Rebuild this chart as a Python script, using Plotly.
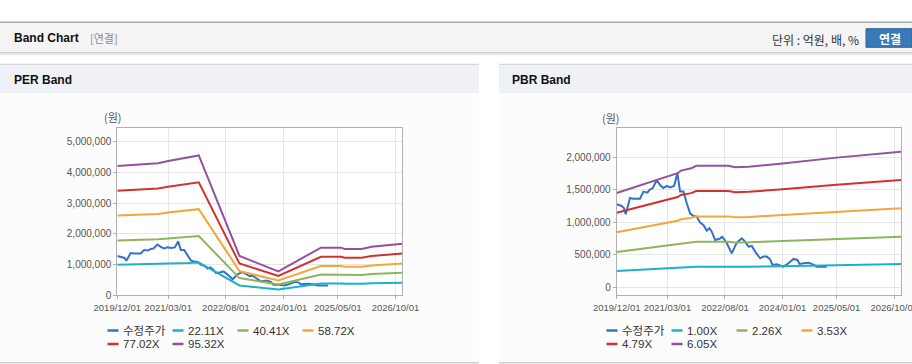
import plotly.graph_objects as go

W, H = 912, 364

# ---------------- data ----------------
series_names_per = ["수정주가", "22.11X", "40.41X", "58.72X", "77.02X", "95.32X"]
series_names_pbr = ["수정주가", "1.00X", "2.26X", "3.53X", "4.79X", "6.05X"]
series_colors = ["#3671c4", "#1fb0c9", "#8fb55a", "#f2a73b", "#d2322b", "#94519f"]

date_ticks = ["2019-12-01", "2021-03-01", "2022-08-01", "2024-01-01", "2025-05-01", "2026-10-01"]

price_dates = [
    "2019-12-01", "2020-01-15", "2020-02-05", "2020-02-20", "2020-03-30", "2020-04-29",
    "2020-06-28", "2020-07-28", "2020-09-02", "2020-09-26", "2020-10-20", "2020-11-25",
    "2020-12-25", "2021-01-24", "2021-02-23", "2021-03-25", "2021-04-30", "2021-05-30",
    "2021-06-23", "2021-07-23", "2021-08-22", "2021-09-21", "2021-10-21", "2021-11-20",
    "2021-12-20", "2022-01-19", "2022-02-18", "2022-03-14", "2022-04-04", "2022-05-04",
    "2022-06-18", "2022-07-06", "2022-07-18", "2022-08-17", "2022-10-01", "2022-11-15",
    "2022-12-30", "2023-01-29", "2023-02-28", "2023-03-30", "2023-04-29", "2023-06-13",
    "2023-07-13", "2023-08-12", "2023-09-11", "2023-10-02", "2023-11-10", "2024-01-09",
    "2024-02-23", "2024-04-08", "2024-05-14", "2024-06-01", "2024-07-07", "2024-08-21",
    "2024-09-29", "2024-11-04", "2025-02-02",
]
price_values = [
    1277000, 1251000, 1215000, 1123000, 1374000, 1364000,
    1364000, 1472000, 1456000, 1508000, 1523000, 1651000,
    1574000, 1528000, 1559000, 1538000, 1559000, 1754000,
    1472000, 1472000, 1292000, 1138000, 1097000, 1087000,
    995000, 959000, 872000, 908000, 856000, 728000,
    750000, 779000, 754000, 677000, 523000, 687000,
    754000, 703000, 626000, 636000, 549000, 446000,
    472000, 472000, 431000, 344000, 354000, 318000,
    369000, 436000, 421000, 359000, 369000, 379000,
    354000, 318000, 318000,
]

per_dates = [
    "2019-12-01", "2020-03-01", "2020-06-01", "2020-09-01", "2020-12-01", "2021-03-01",
    "2021-06-01", "2021-09-01", "2021-12-01", "2022-12-01", "2023-11-15", "2024-12-01",
    "2025-06-01", "2025-07-01", "2025-12-01", "2026-03-01", "2026-12-01",
]
per_22_11 = [995000, 1000000, 1004000, 1008000, 1015000, 1030000, 1043000, 1052000, 1070000,
             320000, 185000, 385000, 385000, 378000, 378000, 392000, 410000]
per_40_41 = [1785000, 1793000, 1802000, 1810000, 1823000, 1852000, 1878000, 1895000, 1929000,
             560000, 350000, 675000, 675000, 660000, 660000, 690000, 735000]
per_58_72 = [2593000, 2606000, 2618000, 2630000, 2649000, 2692000, 2729000, 2754000, 2803000,
             788000, 480000, 955000, 955000, 930000, 930000, 973000, 1035000]
per_77_02 = [3402000, 3418000, 3434000, 3450000, 3474000, 3531000, 3579000, 3612000, 3676000,
             1034000, 630000, 1252000, 1252000, 1220000, 1220000, 1277000, 1357000]
per_95_32 = [4210000, 4230000, 4250000, 4270000, 4300000, 4370000, 4430000, 4470000, 4550000,
             1280000, 780000, 1550000, 1550000, 1510000, 1510000, 1580000, 1680000]

pbr_dates = [
    "2019-12-01", "2021-06-01", "2021-07-01", "2021-10-01", "2021-11-15", "2022-09-01",
    "2022-11-01", "2023-03-01", "2024-01-01", "2025-05-01", "2026-12-01",
]
pbr_1_00 = [250000, 298000, 305000, 310000, 317000, 317000, 313000, 315000, 323000, 340000, 360000]
pbr_2_26 = [542000, 656000, 671000, 684000, 699000, 699000, 690000, 693000, 712000, 745000, 779000]
pbr_3_53 = [846000, 1024000, 1047000, 1068000, 1091000, 1091000, 1077000, 1082000, 1112000, 1164000, 1217000]
pbr_4_79 = [1148000, 1389000, 1421000, 1449000, 1480000, 1480000, 1461000, 1469000, 1508000, 1579000, 1651000]
pbr_6_05 = [1450000, 1755000, 1795000, 1830000, 1870000, 1870000, 1846000, 1855000, 1905000, 1995000, 2085000]

per_ticks = [0, 1000000, 2000000, 3000000, 4000000, 5000000]
pbr_ticks = [0, 500000, 1000000, 1500000, 2000000]

# ---------------- helpers (pixel -> paper, margins are zero) ----------------
def px(x):
    return x / W

def py(y):
    return 1 - y / H

FONT = "Liberation Sans, Noto Sans CJK KR, sans-serif"
KFONT = "Noto Sans CJK KR, Liberation Sans, sans-serif"

fig = go.Figure()

per_bands = [per_22_11, per_40_41, per_58_72, per_77_02, per_95_32]
pbr_bands = [pbr_1_00, pbr_2_26, pbr_3_53, pbr_4_79, pbr_6_05]

fig.add_trace(go.Scatter(x=price_dates, y=price_values, mode="lines", name=series_names_per[0],
                         line=dict(color=series_colors[0], width=2), xaxis="x", yaxis="y"))
for i, band in enumerate(per_bands):
    fig.add_trace(go.Scatter(x=per_dates, y=band, mode="lines", name=series_names_per[i + 1],
                             line=dict(color=series_colors[i + 1], width=2), xaxis="x", yaxis="y"))

fig.add_trace(go.Scatter(x=price_dates, y=price_values, mode="lines", name=series_names_pbr[0],
                         line=dict(color=series_colors[0], width=2), xaxis="x2", yaxis="y2"))
for i, band in enumerate(pbr_bands):
    fig.add_trace(go.Scatter(x=pbr_dates, y=band, mode="lines", name=series_names_pbr[i + 1],
                             line=dict(color=series_colors[i + 1], width=2), xaxis="x2", yaxis="y2"))

axis_common = dict(
    showgrid=True, gridcolor="#e6e6e6", gridwidth=1,
    showline=True, linecolor="#b0b0b0", linewidth=1, mirror=True,
    ticks="outside", ticklen=3, tickcolor="#b0b0b0",
    tickfont=dict(family=FONT, size=10, color="#555555"),
    zeroline=False, fixedrange=True, automargin=False, tickangle=0,
)
xfont = dict(family=FONT, size=9.5, color="#555555")

xr = ["2019-12-01", "2026-12-01"]
fig.update_layout(
    xaxis=dict(axis_common, type="date", range=xr, tickvals=date_ticks, tickformat="%Y/%m/%d",
               domain=[px(117.3), px(402.3)], anchor="y", ticklabeloverflow="allow", tickfont=xfont),
    yaxis=dict(axis_common, range=[0, 5434000], tickvals=per_ticks, tickformat=",",
               domain=[py(295.3), py(128.3)], anchor="x"),
    xaxis2=dict(axis_common, type="date", range=xr, tickvals=date_ticks, tickformat="%Y/%m/%d",
                domain=[px(616.7), px(901)], anchor="y2", ticklabeloverflow="allow", tickfont=xfont),
    yaxis2=dict(axis_common, range=[-123000, 2446000], tickvals=pbr_ticks, tickformat=",",
                domain=[py(295.3), py(128.3)], anchor="x2"),
)

shapes = []
annotations = []

# page chrome
shapes += [
    dict(type="rect", xref="paper", yref="paper", x0=0, x1=1, y0=py(52.5), y1=py(22.5),
         fillcolor="#f4f4f4", line=dict(width=0), layer="below"),
    dict(type="line", xref="paper", yref="paper", x0=0, x1=1, y0=py(22.3), y1=py(22.3),
         line=dict(color="#aaaaaa", width=1.5), layer="below"),
    dict(type="line", xref="paper", yref="paper", x0=0, x1=1, y0=py(52.8), y1=py(52.8),
         line=dict(color="#c4c4c4", width=1.2), layer="below"),
    dict(type="line", xref="paper", yref="paper", x0=0, x1=1, y0=py(54.2), y1=py(54.2),
         line=dict(color="#e8e8e8", width=1.5), layer="below"),
]
for (a, b) in [(0, 479), (499, 912)]:
    shapes += [
        dict(type="rect", xref="paper", yref="paper", x0=px(a), x1=px(b), y0=py(362), y1=py(93),
             fillcolor="#fcfcfc", line=dict(width=0), layer="below"),
        dict(type="rect", xref="paper", yref="paper", x0=px(a), x1=px(b), y0=py(93), y1=py(64.5),
             fillcolor="#eef1f6", line=dict(width=0), layer="below"),
        dict(type="line", xref="paper", yref="paper", x0=px(a), x1=px(b), y0=py(64.3), y1=py(64.3),
             line=dict(color="#d6d6d6", width=1.2), layer="below"),
        dict(type="line", xref="paper", yref="paper", x0=px(a), x1=px(b), y0=py(362.8), y1=py(362.8),
             line=dict(color="#cfcfcf", width=1.5), layer="below"),
    ]
# plot area backgrounds
for (a, b) in [(117.3, 402.3), (616.7, 901)]:
    shapes.append(dict(type="rect", xref="paper", yref="paper", x0=px(a), x1=px(b),
                       y0=py(295.3), y1=py(128.3), fillcolor="#ffffff", line=dict(width=0), layer="below"))

# button
shapes.append(dict(type="rect", xref="paper", yref="paper", x0=px(866), x1=px(912), y0=py(47.3), y1=py(28.7),
                   fillcolor="#3a78b8", line=dict(color="#2e62a0", width=1), layer="above"))
annotations.append(dict(text="<b>연결</b>", x=px(889.5), y=py(38.2), xref="paper", yref="paper",
                        showarrow=False, xanchor="center", yanchor="middle",
                        font=dict(family=KFONT, size=12, color="#ffffff")))

annotations += [
    dict(text="<b>Band Chart</b>", x=px(11.5), y=py(38.5), xref="paper", yref="paper", showarrow=False,
         xanchor="left", yanchor="middle", font=dict(family=FONT, size=12, color="#111111")),
    dict(text="[연결]", x=px(87.5), y=py(38.5), xref="paper", yref="paper", showarrow=False,
         xanchor="left", yanchor="middle", font=dict(family=KFONT, size=11, color="#8a8a8a")),
    dict(text="단위 : 억원, 배, %", x=px(860.5), y=py(39.5), xref="paper", yref="paper", showarrow=False,
         xanchor="right", yanchor="middle", font=dict(family=KFONT, size=12, color="#333333")),
    dict(text="<b>PER Band</b>", x=px(11.5), y=py(80), xref="paper", yref="paper", showarrow=False,
         xanchor="left", yanchor="middle", font=dict(family=FONT, size=12, color="#111111")),
    dict(text="<b>PBR Band</b>", x=px(509.5), y=py(80), xref="paper", yref="paper", showarrow=False,
         xanchor="left", yanchor="middle", font=dict(family=FONT, size=12, color="#111111")),
    dict(text="(원)", x=px(112.5), y=py(117.5), xref="paper", yref="paper", showarrow=False,
         xanchor="center", yanchor="middle", font=dict(family=KFONT, size=11, color="#555555")),
    dict(text="(원)", x=px(611), y=py(118), xref="paper", yref="paper", showarrow=False,
         xanchor="center", yanchor="middle", font=dict(family=KFONT, size=11, color="#555555")),
]

# custom legends
def add_legend(names, x0, rows_y):
    for i, (name, color) in enumerate(zip(names, series_colors)):
        row, col = divmod(i, 4)
        sx = x0 + col * 65
        yy = rows_y[row]
        shapes.append(dict(type="line", xref="paper", yref="paper", x0=px(sx), x1=px(sx + 11),
                           y0=py(yy), y1=py(yy), line=dict(color=color, width=2.5), layer="above"))
        annotations.append(dict(text=name, x=px(sx + 13), y=py(yy), xref="paper", yref="paper",
                                showarrow=False, xanchor="left", yanchor="middle",
                                font=dict(family=FONT, size=11.5, color="#333333")))

add_legend(series_names_per, 107.5, [330.5, 344])
add_legend(series_names_pbr, 606.5, [330.5, 344])

fig.update_layout(
    width=W, height=H, autosize=False,
    margin=dict(l=0, r=0, t=0, b=0, pad=0, autoexpand=False),
    paper_bgcolor="#ffffff", plot_bgcolor="rgba(0,0,0,0)",
    showlegend=False,
    shapes=shapes, annotations=annotations,
    font=dict(family=FONT, size=11, color="#555555"),
)

fig.write_html(
    "out.html",
    config={"displayModeBar": False},
    post_script="document.documentElement.style.overflow='hidden';document.body.style.margin='0';document.body.style.overflow='hidden';",
)
